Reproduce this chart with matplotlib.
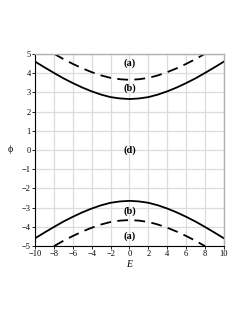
import numpy as np
import matplotlib.pyplot as plt

# Field E and the two branches (upper halves, lower is mirrored)
E = [-10, -9, -8, -7, -6, -5, -4, -3, -2, -1, 0, 1, 2, 3, 4, 5, 6, 7, 8, 9, 10]
PHI_B = [4.60, 4.30, 4.01, 3.73, 3.48, 3.25, 3.05, 2.88, 2.75, 2.68, 2.65,
         2.68, 2.75, 2.88, 3.05, 3.25, 3.48, 3.73, 4.01, 4.30, 4.60]
E_A = [-8, -7, -6, -5, -4, -3, -2, -1, 0, 1, 2, 3, 4, 5, 6, 7, 8]
PHI_A = [5.01, 4.73, 4.48, 4.25, 4.05, 3.88, 3.75, 3.68, 3.65,
         3.68, 3.75, 3.88, 4.05, 4.25, 4.48, 4.73, 5.01]

LABELS = [("(a)", 4.5), ("(b)", 3.2), ("(d)", 0.0), ("(b)", -3.2), ("(a)", -4.5)]

plt.rcParams["font.family"] = ["Liberation Serif", "DejaVu Serif"]

fig = plt.figure(figsize=(2.45, 3.17), dpi=100)
ax = fig.add_axes([0.143, 0.224, 0.771, 0.606])

ea = np.array(E_A)
pa = np.array(PHI_A)
e = np.array(E)
pb = np.array(PHI_B)

ax.plot(e, pb, color="black", lw=1.3)
ax.plot(e, -pb, color="black", lw=1.3)
ax.plot(ea, pa, color="black", lw=1.3, ls=(0, (6, 3.5)))
ax.plot(ea, -pa, color="black", lw=1.3, ls=(0, (6, 3.5)))

for txt, y in LABELS:
    ax.text(0, y, txt, ha="center", va="center", fontsize=7.5, fontweight="bold")

ax.set_xlim(-10, 10)
ax.set_ylim(-5, 5)
ax.set_xticks(range(-10, 11, 2))
ax.set_yticks(range(-5, 6))
ax.set_xticklabels([str(v).replace("-", "\u2212") for v in range(-10, 11, 2)])
ax.set_yticklabels([str(v).replace("-", "\u2212") for v in range(-5, 6)])
ax.tick_params(labelsize=6, length=2, width=0.6, pad=1)
ax.grid(color="#dcdcdc", lw=0.9)
ax.set_axisbelow(True)

for side in ("top", "right"):
    ax.spines[side].set_color("#b0b0b0")
    ax.spines[side].set_linewidth(1.0)
for side in ("left", "bottom"):
    ax.spines[side].set_color("black")
    ax.spines[side].set_linewidth(0.8)

ax.set_xlabel("E", fontsize=7, style="italic", labelpad=1)
fig.text(10 / 245, 1 - 150 / 317, "\u03d5", fontsize=7, ha="center", va="center")

fig.savefig("out.png", dpi=100)
